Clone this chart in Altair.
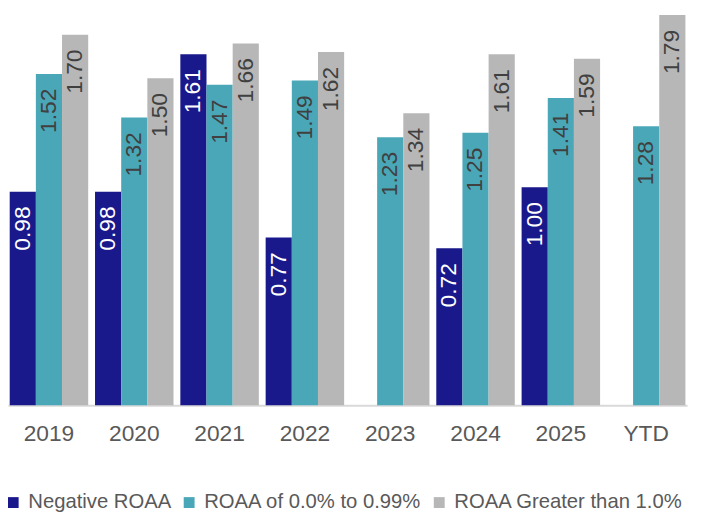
import altair as alt
import pandas as pd

categories = ["2019", "2020", "2021", "2022", "2023", "2024", "2025", "YTD"]
series_names = ["Negative ROAA", "ROAA of 0.0% to 0.99%", "ROAA Greater than 1.0%"]
negative = [0.98, 0.98, 1.61, 0.77, None, 0.72, 1.00, None]
low = [1.52, 1.32, 1.47, 1.49, 1.23, 1.25, 1.41, 1.28]
high = [1.70, 1.50, 1.66, 1.62, 1.34, 1.61, 1.59, 1.79]
colors = ["#19198C", "#4AA7B8", "#B7B7B7"]

rows = []
for name, vals in zip(series_names, [negative, low, high]):
    for cat, v in zip(categories, vals):
        if v is not None:
            rows.append({"Year": cat, "Series": name, "Value": v})
df = pd.DataFrame(rows)

FONT = "Liberation Sans"

x = alt.X("Year:N", sort=categories,
          scale=alt.Scale(paddingInner=0.08, paddingOuter=0.02),
          axis=alt.Axis(title=None, labelAngle=0, ticks=False, labelFontSize=23,
                        labelColor="#595959", labelFont=FONT, labelPadding=18,
                        domainColor="#D9D9D9", domainWidth=2))
xo = alt.XOffset("Series:N", sort=series_names,
                 scale=alt.Scale(domain=series_names, paddingInner=0, paddingOuter=0))
y = alt.Y("Value:Q", scale=alt.Scale(domain=[0, 1.809], nice=False, zero=True), axis=None)

bars = alt.Chart(df).mark_bar().encode(
    x=x, xOffset=xo, y=y,
    color=alt.Color("Series:N", sort=series_names,
                    scale=alt.Scale(domain=series_names, range=colors),
                    legend=alt.Legend(title=None, orient="none", legendX=-5, legendY=487,
                                      direction="horizontal", symbolType="square",
                                      symbolSize=121, symbolStrokeWidth=0,
                                      labelFontSize=20.5, labelFont=FONT, labelLimit=0,
                                      labelColor="#595959", labelOffset=5,
                                      columnPadding=7, padding=0)),
)

labels = alt.Chart(df).mark_text(angle=270, align="right", baseline="middle", dx=-15,
                                 fontSize=23, font=FONT).encode(
    x=x, xOffset=xo, y=y,
    text=alt.Text("Value:Q", format=".2f"),
    color=alt.condition(alt.datum.Series == "Negative ROAA",
                        alt.value("#FFFFFF"), alt.value("#404040")),
)

chart = alt.layer(bars, labels).properties(
    width=687, height=399,
    autosize=alt.AutoSizeParams(type="none"),
    padding={"left": 0, "top": 0, "right": 10, "bottom": 106},
).configure_view(stroke=None)

chart.save("out.html", embed_options={"renderer": "svg", "actions": False})
